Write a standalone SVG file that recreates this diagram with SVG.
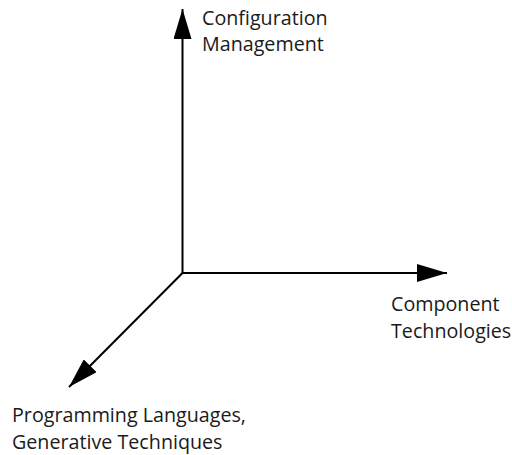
<svg xmlns="http://www.w3.org/2000/svg" width="512" height="455" viewBox="0 0 512 455">
  <style>
    .axis { stroke: #000; stroke-width: 2; fill: none; }
    .label { font-family: "Open Sans", "Noto Sans", sans-serif; font-size: 19.7px; fill: #1a1a1a; }
  </style>
  <defs>
    <marker id="head" viewBox="0 0 30 18" refX="30" refY="9" markerWidth="30" markerHeight="18" markerUnits="userSpaceOnUse" orient="auto">
      <path d="M0,0 L30,9 L0,18 Z" fill="#000"/>
    </marker>
  </defs>
  <rect width="512" height="455" fill="#fff"/>
  <g id="connectors">
    <line class="axis" x1="182.5" y1="273" x2="182.5" y2="9" marker-end="url(#head)"/>
    <line class="axis" x1="182.5" y1="273" x2="447" y2="273" marker-end="url(#head)"/>
    <line class="axis" x1="182.5" y1="273" x2="69" y2="387" marker-end="url(#head)"/>
  </g>
  <g id="config-management">
    <text class="label" x="202" y="24.5">Configuration</text>
    <text class="label" x="202" y="51">Management</text>
  </g>
  <g id="component-technologies">
    <text class="label" x="391" y="311">Component</text>
    <text class="label" x="391" y="337.5">Technologies</text>
  </g>
  <g id="programming-languages">
    <text class="label" x="12" y="422">Programming Languages,</text>
    <text class="label" x="12" y="448.5">Generative Techniques</text>
  </g>
</svg>
